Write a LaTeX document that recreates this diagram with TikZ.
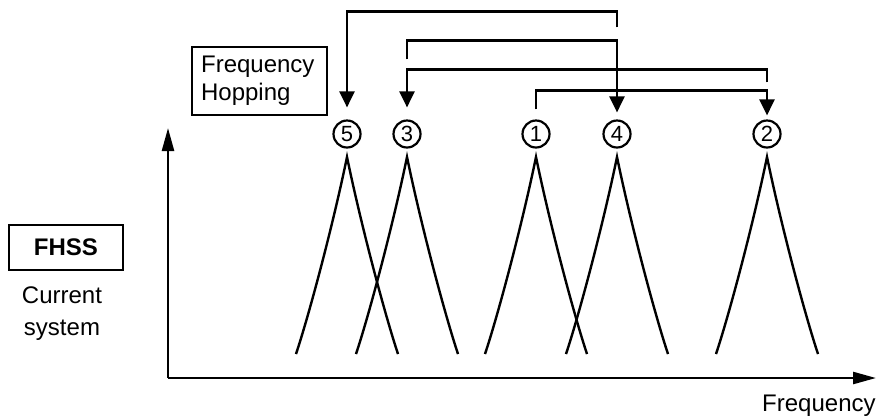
\documentclass[tikz,border=0pt]{standalone}
\usepackage{fontspec}
\setmainfont{Liberation Sans}
\usetikzlibrary{arrows.meta,positioning}

\tikzset{
  hopnum/.style={circle, draw, line width=1.1pt, inner sep=0pt,
    minimum size=13.5pt, font=\fontsize{11}{12}\selectfont},
  hopline/.style={line width=1.2pt},
  hoparrow/.style={hopline, -{Triangle[length=8pt,width=7.5pt]}},
  axis/.style={line width=1.2pt, -{Triangle[length=11.5pt,width=6pt]}},
  peak/.style={line width=1.2pt},
  labelbox/.style={draw, line width=1.1pt, font=\fontsize{12}{14}\selectfont}
}

\begin{document}
\begin{tikzpicture}[x=0.5pt, y=-0.5pt]
  \useasboundingbox (0,0) rectangle (876,419);

  % axes
  \coordinate (origin) at (168,378);
  \coordinate (ytip) at (168,128);
  \coordinate (xtip) at (876,378);
  \draw[axis] (origin) -- (ytip);
  \draw[axis] (origin) -- (xtip);
  \node[anchor=base east, inner sep=0pt, font=\fontsize{12}{14}\selectfont]
    (xlabel) at (876,411) {Frequency};

  % left labels
  \node[labelbox, minimum width=57pt, minimum height=22.5pt,
    font=\fontsize{12}{14}\selectfont\bfseries] (fhss) at (66,247.5) {FHSS};
  \node[align=center, inner sep=0pt, font=\fontsize{12}{16}\selectfont]
    (current) at (62,314) {Current\\system};

  \node[labelbox, anchor=north west, align=left, inner xsep=4.5pt,
    text width=58.5pt, minimum height=34pt] (hopping) at (191,46)
    {Frequency\\Hopping};

  % channels
  \node[hopnum] (n5) at (347,134) {5};
  \node[hopnum] (n3) at (407,134) {3};
  \node[hopnum] (n1) at (536,134) {1};
  \node[hopnum] (n4) at (617,134) {4};
  \node[hopnum] (n2) at (767,134) {2};

  \foreach \x in {347,407,536,617,767}
    \draw[peak] (\x-51,354) .. controls (\x-38,315) and (\x-14,225) .. (\x,157)
      .. controls (\x+14,225) and (\x+38,315) .. (\x+51,354);

  % hopping order
  \draw[hoparrow] ([yshift=5pt]n1.north) -- ++(0,-19) -| ([yshift=2pt]n2.north);
  \draw[hoparrow] ([yshift=18.5pt]n2.north) -- ++(0,-13) -| ([yshift=6pt]n3.north);
  \draw[hoparrow] ([yshift=30pt]n3.north) -- ++(0,-19) -| ([yshift=3.5pt]n4.north);
  \draw[hoparrow] ([yshift=46pt]n4.north) -- ++(0,-16) -| ([yshift=6pt]n5.north);
\end{tikzpicture}
\end{document}
